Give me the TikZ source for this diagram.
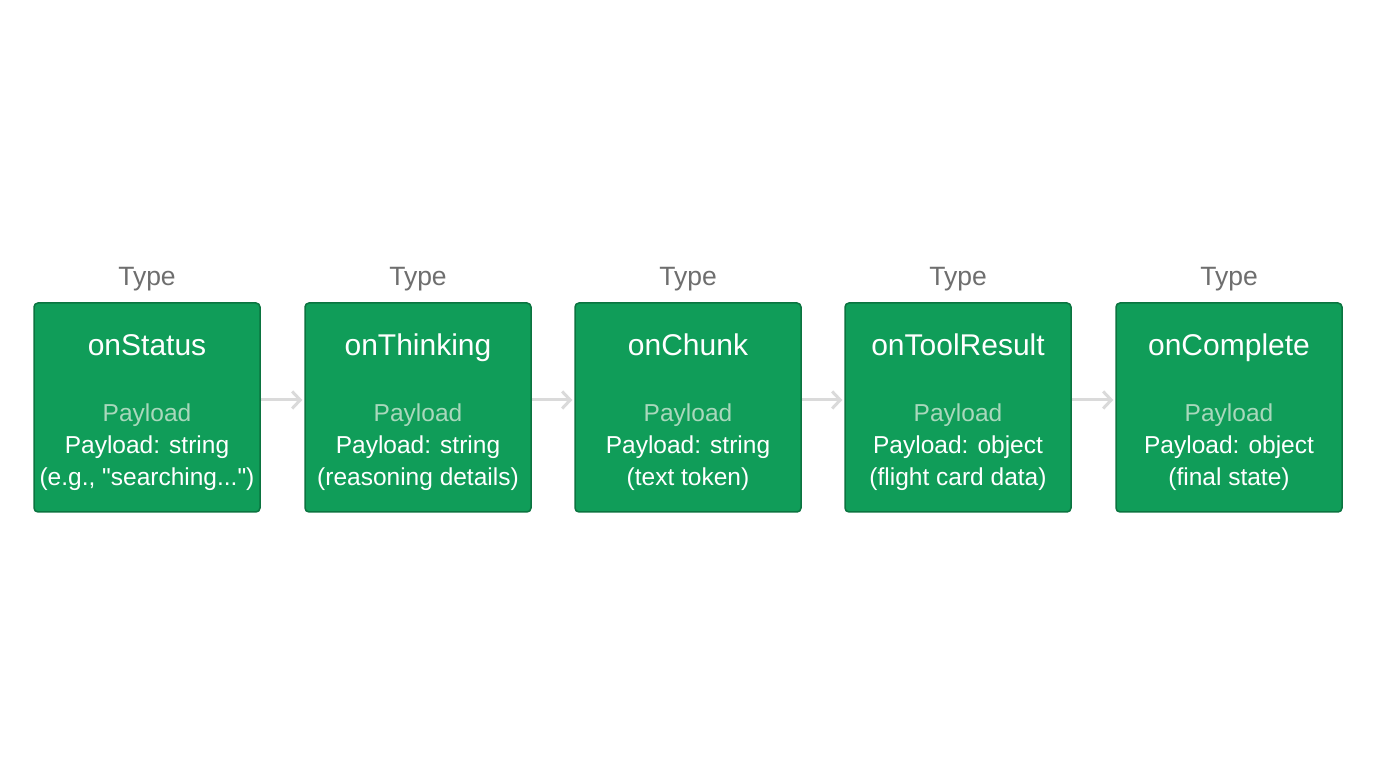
\documentclass[tikz,border=0pt]{standalone}
\usepackage{fontspec}
\setmainfont{Liberation Sans}
\usetikzlibrary{arrows.meta}
\definecolor{boxg}{HTML}{109D59}
\definecolor{boxb}{HTML}{0B7440}
\definecolor{payl}{HTML}{A9D8BC}
\definecolor{typeg}{HTML}{6E6E6E}
\definecolor{arrg}{HTML}{DADADA}
\tikzset{
  evbox/.style={draw=boxb, line width=1.5pt, fill=boxg, rounded corners=4pt, minimum width=226pt, minimum height=209pt, inner sep=0pt},
  ttl/.style={text=white, font=\fontsize{30}{32}\selectfont, inner sep=0pt, anchor=base},
  pl/.style={text=payl, font=\fontsize{24.5}{30}\selectfont, inner sep=0pt, anchor=base},
  bd/.style={text=white, font=\fontsize{24.5}{30}\selectfont, inner sep=0pt, anchor=base},
  typ/.style={text=typeg, font=\fontsize{26.5}{30}\selectfont, inner sep=0pt, anchor=base},
  flow/.style={draw=arrg, line width=3pt, -{Straight Barb[length=8pt,width=17pt,line width=3pt]}, shorten >=2pt}
}
\begin{document}
\begin{tikzpicture}[x=1pt,y=1pt]
\useasboundingbox (0,0) rectangle (1376,768);
\fill[white] (0,0) rectangle (1376,768);
\foreach \i/\cx/\t/\a/\b in {1/147/onStatus/Payload: string/{(e.g., \textquotedbl searching...\textquotedbl)},
  2/418/onThinking/Payload: string/(reasoning details),
  3/688/onChunk/Payload: string/(text token),
  4/958/onToolResult/Payload: object/(flight card data),
  5/1229/onComplete/Payload: object/(final state)} {
  \node[evbox] (b\i) at (\cx,360.5) {};
  \node[typ] (ty\i) at (\cx,482) {Type};
  \node[ttl] (t\i) at (\cx,412) {\t};
  \node[pl] (p\i) at (\cx,346) {Payload};
  \node[bd] (l\i) at (\cx,314) {\a};
  \node[bd] (m\i) at (\cx,282) {\b};
}
\foreach \i/\j in {1/2,2/3,3/4,4/5} {
  \draw[flow] ([yshift=7.5pt]b\i.east) -- ([yshift=7.5pt]b\j.west);
}
\end{tikzpicture}
\end{document}
